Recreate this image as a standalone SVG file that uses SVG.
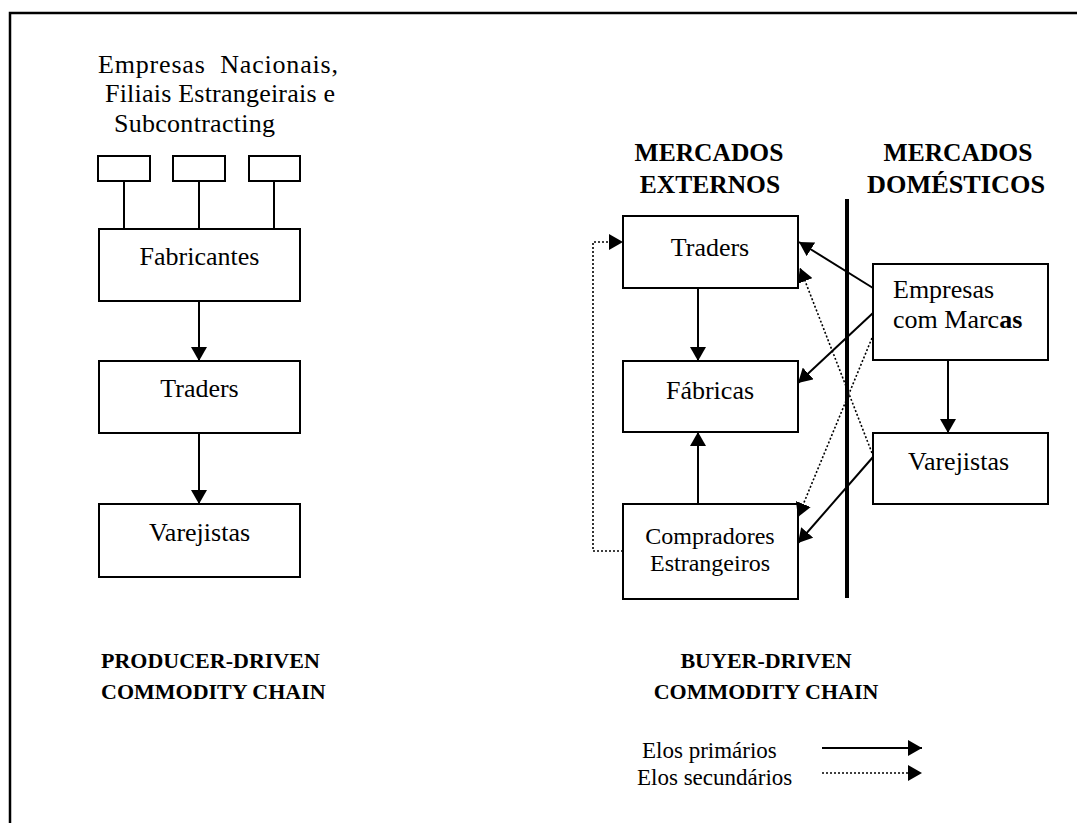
<svg xmlns="http://www.w3.org/2000/svg" width="1077" height="823" viewBox="0 0 1077 823">
<style>
text{font-family:"Liberation Serif","Times New Roman",serif;fill:#000}
.t{font-size:26px}
.s{font-size:24px}
.b{font-size:22px;font-weight:bold}
.h{font-size:25.5px;font-weight:bold}
.l{font-size:23px}
.box{fill:#fff;stroke:#000;stroke-width:2}
.c{fill:none;stroke:#000;stroke-width:2}
.d{fill:none;stroke:#000;stroke-width:1.6;stroke-dasharray:2 2}
</style>
<defs>
<marker id="ah" markerWidth="16" markerHeight="16" refX="14" refY="8" orient="auto" markerUnits="userSpaceOnUse">
<path d="M0,0 L14,8 L0,16 Z" fill="#000"/>
</marker>
</defs>
<rect width="1077" height="823" fill="#fff"/>
<path d="M10,823 V13 H1077" fill="none" stroke="#000" stroke-width="2.5"/>

<g id="top-label">
<text class="t" x="98" y="73" xml:space="preserve" textLength="240" lengthAdjust="spacing">Empresas  Nacionais,</text>
<text class="t" x="105" y="102" textLength="230" lengthAdjust="spacing">Filiais Estrangeirais e</text>
<text class="t" x="114" y="132" textLength="161" lengthAdjust="spacing">Subcontracting</text>
</g>
<g id="sub1"><rect class="box" x="98" y="156" width="52" height="25"/></g>
<g id="sub2"><rect class="box" x="173" y="156" width="52" height="25"/></g>
<g id="sub3"><rect class="box" x="249" y="156" width="51" height="25"/></g>
<g id="fabricantes"><rect class="box" x="99" y="229" width="201" height="72"/><text class="t" x="199.5" y="265" text-anchor="middle">Fabricantes</text></g>
<g id="traders-left"><rect class="box" x="99" y="361" width="201" height="72"/><text class="t" x="199.5" y="397" text-anchor="middle">Traders</text></g>
<g id="varejistas-left"><rect class="box" x="99" y="504" width="201" height="73"/><text class="t" x="199.5" y="541" text-anchor="middle">Varejistas</text></g>

<g id="heading-producer">
<text class="b" x="101" y="668">PRODUCER-DRIVEN</text>
<text class="b" x="101" y="699">COMMODITY CHAIN</text>
</g>
<g id="heading-buyer">
<text class="b" x="766" y="668" text-anchor="middle">BUYER-DRIVEN</text>
<text class="b" x="766" y="699" text-anchor="middle">COMMODITY CHAIN</text>
</g>
<g id="mercados-externos">
<text class="h" x="709" y="161" text-anchor="middle">MERCADOS</text>
<text class="h" x="710" y="193" text-anchor="middle">EXTERNOS</text>
</g>
<g id="mercados-domesticos">
<text class="h" x="958" y="161" text-anchor="middle">MERCADOS</text>
<text class="h" x="956" y="193" text-anchor="middle" textLength="178" lengthAdjust="spacingAndGlyphs">DOMÉSTICOS</text>
</g>

<g id="divider"><line x1="847" y1="199" x2="847" y2="598" stroke="#000" stroke-width="4"/></g>

<g id="traders-right"><rect class="box" x="623" y="216" width="175" height="72"/><text class="t" x="710" y="256" text-anchor="middle">Traders</text></g>
<g id="fabricas"><rect class="box" x="623" y="361" width="175" height="71"/><text class="t" x="710" y="399" text-anchor="middle">Fábricas</text></g>
<g id="compradores"><rect class="box" x="623" y="504" width="175" height="95"/><text class="s" x="710" y="544" text-anchor="middle">Compradores</text><text class="s" x="710" y="571" text-anchor="middle">Estrangeiros</text></g>
<g id="empresas-marcas"><rect class="box" x="873" y="264" width="175" height="96"/><text class="t" x="893" y="298">Empresas</text><text class="t" x="893" y="328">com Marc<tspan font-weight="bold">as</tspan></text></g>
<g id="varejistas-right"><rect class="box" x="873" y="433" width="175" height="71"/><text class="t" x="908" y="470">Varejistas</text></g>

<g id="connectors">
<line class="c" x1="124" y1="181" x2="124" y2="229"/>
<line class="c" x1="199" y1="181" x2="199" y2="229"/>
<line class="c" x1="274" y1="181" x2="274" y2="229"/>
<line class="c" x1="199" y1="301" x2="199" y2="361" marker-end="url(#ah)"/>
<line class="c" x1="199" y1="433" x2="199" y2="504" marker-end="url(#ah)"/>
<line class="c" x1="698" y1="288" x2="698" y2="361" marker-end="url(#ah)"/>
<line class="c" x1="698" y1="504" x2="698" y2="432" marker-end="url(#ah)"/>
<line class="c" x1="948" y1="360" x2="948" y2="433" marker-end="url(#ah)"/>
<line class="c" x1="873" y1="288" x2="799" y2="242" marker-end="url(#ah)"/>
<line class="c" x1="873" y1="313" x2="798" y2="383" marker-end="url(#ah)"/>
<line class="c" x1="873" y1="457" x2="798" y2="543" marker-end="url(#ah)"/>
<line class="d" x1="872" y1="453" x2="800" y2="268" marker-end="url(#ah)"/>
<line class="d" x1="872" y1="338" x2="798" y2="517" marker-end="url(#ah)"/>
<path class="d" d="M623,551 H593 V242 H623" marker-end="url(#ah)"/>
</g>

<g id="legend">
<text class="l" x="642" y="758">Elos primários</text>
<text class="l" x="637" y="785">Elos secundários</text>
<line class="c" x1="822" y1="748" x2="922" y2="748" marker-end="url(#ah)"/>
<line class="d" x1="822" y1="773" x2="922" y2="773" marker-end="url(#ah)"/>
</g>
</svg>
